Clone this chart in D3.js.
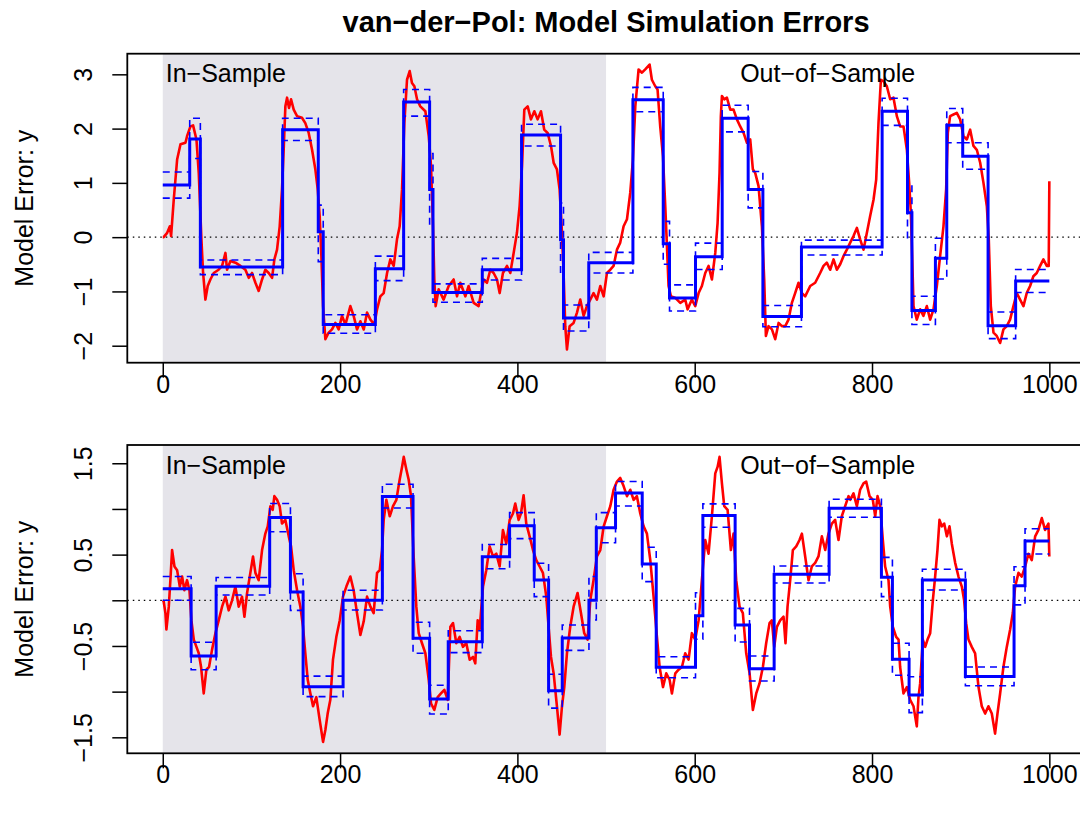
<!DOCTYPE html>
<html>
<head>
<meta charset="utf-8">
<script src="https://cdn.jsdelivr.net/npm/d3@7"></script>
<style>
  body { margin: 0; background: #fff; }
  text { font-family: "Liberation Sans", Arial, Helvetica, sans-serif; }
</style>
</head>
<body>
<div id="chart"></div>
<script>
// ---- data ----
// x tick labels shared by both panels
const xTicks = [0, 200, 400, 600, 800, 1000];
const sampleSplit = 500; // in-sample / out-of-sample boundary

// panel 1: simulated model error (time, value)
const simError1 = [[0,0.0],[1,0.0],[5,0.08],[8,0.2],[9.4,0.02],[12.4,0.69],[16.2,1.43],[20,1.71],[25.6,1.74],[27.4,1.86],[31.2,2.04],[34.2,2.06],[38,1.8],[40.6,1.18],[43.6,-0.04],[45.5,-0.66],[48.1,-1.15],[50.7,-0.9],[53.7,-0.78],[57.5,-0.66],[63,-0.6],[66.9,-0.53],[70.7,-0.29],[72.5,-0.6],[76.3,-0.44],[82,-0.47],[87.6,-0.53],[93.2,-0.6],[97,-0.75],[100.7,-0.66],[104.5,-0.84],[108.2,-0.99],[112,-0.78],[115.7,-0.6],[119.5,-0.66],[123.3,-0.75],[125.9,-0.41],[128.9,-0.23],[131.9,0.2],[134.5,0.88],[136.4,1.61],[138.3,2.41],[140.2,2.57],[142.4,2.38],[144.7,2.54],[147.7,2.35],[151.5,2.23],[157,2.2],[160.8,2.1],[164.6,1.92],[168.4,1.61],[172.1,1.25],[174.8,0.88],[177,0.39],[178.9,-0.35],[180.8,-1.27],[183.4,-1.88],[187.1,-1.76],[190.9,-1.7],[194.7,-1.58],[198.4,-1.7],[202.2,-1.45],[206,-1.61],[211.6,-1.27],[215.3,-1.45],[219.1,-1.7],[222.9,-1.55],[226.7,-1.7],[230.4,-1.39],[234.2,-1.52],[238.7,-1.61],[241.7,-1.33],[245.4,-1.09],[249.2,-1.03],[253,-0.66],[256.7,-0.41],[260.5,-0.53],[264.2,-0.04],[267.2,0.2],[269.9,0.88],[272.5,2.1],[275.5,2.9],[278.5,3.06],[281.1,2.84],[283.8,2.78],[286.8,2.54],[290.5,2.41],[296.2,2.32],[300,1.86],[302.6,1.31],[304.8,0.2],[306.3,-0.78],[307.8,-1.27],[311.2,-0.96],[316.8,-1.15],[322.5,-0.9],[328.1,-0.78],[331.9,-1.09],[335.6,-0.84],[341.3,-1.09],[345,-0.9],[350.7,-1.21],[356.3,-1.27],[359,-1.03],[362,-0.78],[365.7,-0.84],[369.5,-0.6],[373.2,-0.66],[377,-0.78],[380,-1.03],[383.7,-0.66],[388.3,-0.53],[392,-0.66],[395.8,-0.29],[399.5,0.08],[402.5,0.57],[405.2,1.31],[407.8,2.35],[411.6,2.41],[415.3,2.17],[419.1,2.32],[422.8,2.17],[426.6,2.32],[430.3,1.98],[434.1,1.92],[437.9,1.68],[440.9,1.37],[444.6,1.25],[447.6,0.88],[449.9,0.2],[452.1,-0.66],[454,-1.64],[455.9,-2.07],[458.9,-1.64],[463.4,-1.58],[467.2,-1.39],[470.9,-1.15],[474.7,-1.45],[478.4,-1.27],[482.2,-1.15],[485.9,-1.03],[489.7,-1.15],[493.5,-0.9],[497.3,-1.09],[501,-0.66],[504.8,-0.6],[508.5,-0.53],[512.3,-0.23],[516,-0.1],[519.8,0.2],[523.6,0.33],[527.3,0.82],[530.3,1.43],[533,2.41],[536.7,3.09],[540.5,3.03],[544.2,3.09],[549.1,3.18],[551.7,2.9],[555.5,2.78],[558.1,2.72],[561.1,2.04],[564.2,1.49],[566.8,0.57],[568.7,-0.17],[570.5,-0.9],[573.2,-1.09],[578.1,-1.12],[583.7,-1.21],[589.3,-1.15],[592,-1.33],[596.8,-1.15],[600.6,-1.27],[604.4,-1.03],[608.1,-0.9],[611.9,-0.66],[615.6,-0.53],[619.4,-0.78],[623.2,-0.29],[625.8,0.26],[628,1.18],[629.5,2.23],[630.7,2.6],[633.3,2.54],[636.3,2.57],[640.1,2.35],[643.8,2.35],[647.6,2.17],[651.3,2.04],[655.1,1.92],[658.9,1.74],[662.6,1.8],[665.6,1.25],[668.3,1.18],[672,0.94],[675.8,0.2],[678.4,-0.78],[680.3,-1.82],[683.3,-1.64],[687.1,-1.7],[690.8,-1.88],[694.6,-1.58],[698.3,-1.64],[702.1,-1.64],[705.8,-1.52],[709.6,-1.21],[713.3,-1.03],[717.1,-0.84],[720.9,-1.03],[724.6,-1.09],[730.3,-0.9],[735.9,-0.84],[741.5,-0.66],[745.3,-0.53],[749,-0.47],[752.8,-0.6],[756.6,-0.41],[760.3,-0.6],[764.1,-0.5],[767.8,-0.35],[771.6,-0.23],[775.4,-0.1],[779.1,0.02],[782.9,0.17],[786.6,-0.04],[790.4,-0.23],[794.2,0.08],[797.9,0.39],[801.7,0.69],[804.7,1.06],[807.3,2.1],[810,2.9],[813,2.87],[816.7,2.78],[820.5,2.54],[824.2,2.57],[828,2.23],[831.7,2.04],[835.5,2.04],[839.3,1.61],[841.9,1.0],[843.8,0.45],[845.3,-0.35],[846.8,-1.27],[850.5,-1.52],[854.3,-1.33],[858,-1.45],[861.8,-1.27],[865.6,-1.52],[869.3,-1.33],[873.1,-0.9],[876.8,-0.35],[880.6,0.2],[883.6,0.88],[885.5,1.92],[888.1,2.23],[891.9,2.26],[895.6,2.29],[899.4,2.17],[903.2,1.86],[906.9,1.8],[910.7,1.98],[914.4,1.68],[918.2,1.61],[922,1.37],[925.7,1.0],[929.5,0.57],[931.7,-0.04],[934,-1.27],[937,-1.76],[940.7,-1.82],[944.5,-1.95],[948.2,-1.7],[952,-1.64],[955.7,-1.52],[959.5,-1.27],[963.3,-1.03],[967,-1.15],[970.8,-1.27],[974.5,-1.03],[978.3,-0.9],[982,-0.72],[985.8,-0.66],[989.6,-0.53],[993.3,-0.41],[997.1,-0.53],[999.3,-0.53],[1000,1.03]];

// panel 1: piecewise-constant model (segment breaks, mean, upper, lower band)
const stepBreaks1 = [0,30.4,42.4,135.2,175.4,181,239.8,271.7,301,304.8,360.4,404.7,448.7,452,480.5,530.3,564.5,571.6,600.9,631,660.3,676.9,720.4,811.4,840,845,871.5,884.3,902.3,930.9,962,1000];
const stepMean1  = [0.96,1.81,-0.55,1.98,0.10,-1.61,-0.58,2.49,0.88,-1.02,-0.60,1.88,-0.05,-1.49,-0.47,2.53,-0.12,-1.12,-0.36,2.19,0.88,-1.46,-0.18,2.32,0.45,-1.35,-0.39,2.06,1.49,-1.63,-0.81];
const stepUpper1 = [1.20,2.19,-0.42,2.19,0.59,-1.43,-0.35,2.72,1.54,-0.86,-0.39,2.08,0.63,-1.25,-0.28,2.76,0.29,-0.88,-0.11,2.43,1.21,-1.26,-0.055,2.56,0.97,-1.09,-0.02,2.37,1.74,-1.38,-0.595];
const stepLower1 = [0.72,1.45,-0.69,1.78,-0.45,-1.77,-0.80,2.23,0.22,-1.20,-0.79,1.68,-0.70,-1.73,-0.66,2.31,-0.50,-1.36,-0.595,1.94,0.54,-1.65,-0.33,2.06,-0.04,-1.61,-0.77,1.74,1.25,-1.87,-1.02];
const yTicks1 = [-2, -1, 0, 1, 2, 3];
const yLabels1 = ['\u22122', '\u22121', '0', '1', '2', '3'];

// panel 2
const simError2 = [[0,0.0],[1,-0.01],[3,-0.14],[4.1,-0.32],[6.8,-0.07],[8.6,0.22],[10.5,0.55],[13.2,0.37],[16.2,0.33],[19.2,0.15],[21.8,0.26],[24.4,0.11],[27.4,0.22],[30.1,0.11],[32.3,-0.22],[35,-0.43],[38,-0.51],[40.6,-0.58],[43.2,-0.73],[46.2,-1.02],[49.2,-0.76],[52.2,-0.73],[55.6,-0.54],[59.4,-0.36],[63.1,-0.22],[66.9,-0.07],[70.7,0.04],[74.4,-0.11],[78.2,0.0],[81.9,0.15],[85.7,-0.07],[89.4,0.04],[92.1,-0.18],[95.1,0.08],[98.8,0.3],[101.8,0.48],[104.5,0.3],[108.2,0.22],[112,0.55],[115.7,0.73],[118.4,0.81],[121.4,1.03],[124,0.99],[125.9,1.14],[128.9,1.10],[131.9,1.03],[134.5,0.84],[138.3,0.88],[142.1,0.70],[144.7,0.59],[147.7,0.33],[151.5,0.11],[155.2,-0.07],[158.2,-0.29],[160.8,-0.58],[163.5,-0.87],[166.5,-1.02],[169.5,-1.16],[173.2,-1.06],[177,-1.31],[180.8,-1.55],[183.4,-1.42],[186,-1.24],[189,-1.09],[192,-0.65],[195.8,-0.40],[199.6,-0.22],[203.3,0.04],[207.1,0.15],[211.6,0.26],[215.3,0.11],[219.1,-0.14],[222.9,-0.38],[226.7,-0.23],[230.4,0.04],[234.2,-0.07],[237.9,-0.14],[241.7,0.30],[244.7,0.33],[247.3,0.55],[249.2,0.88],[252.2,1.10],[256,0.92],[259.7,1.03],[263.5,1.10],[267.2,1.32],[269.9,1.46],[271.8,1.57],[274.8,1.43],[277.4,1.32],[280,1.14],[283,0.48],[286,-0.07],[288.7,-0.36],[292.4,-0.47],[296.2,-0.58],[300,-0.87],[302.6,-1.13],[306.3,-1.20],[310.1,-1.06],[313.8,-1.02],[317.6,-0.98],[321.4,-1.09],[324.4,-0.29],[327.4,-0.25],[331.1,-0.47],[334.9,-0.40],[338.6,-0.51],[342.4,-0.47],[346.2,-0.65],[349.9,-0.62],[352.5,-0.69],[355.2,-0.22],[357.4,-0.32],[361.2,0.15],[364.9,0.33],[368.7,0.59],[372.5,0.48],[376.2,0.51],[380,0.37],[383.7,0.77],[387.5,0.62],[391.3,0.88],[395,0.95],[397.6,1.06],[401.4,0.88],[404,0.95],[407,1.15],[410,0.84],[413.8,0.70],[417.6,0.55],[421.3,0.44],[425.1,0.37],[428.8,0.30],[432.6,0.04],[435.2,-0.29],[437.9,-0.62],[440.9,-0.80],[444.6,-1.16],[447.6,-1.47],[450.3,-1.16],[452.9,-0.95],[455.9,-0.58],[459.6,-0.29],[463.4,-0.07],[467.9,0.08],[471.7,-0.14],[475.4,-0.36],[479.2,-0.43],[482.2,0.0],[485.9,0.22],[489.7,0.48],[493.5,0.55],[497.3,0.81],[501,0.92],[504.8,1.03],[508.5,1.21],[512.3,1.30],[516,1.34],[519.8,1.25],[523.6,1.14],[527.3,1.21],[531.1,1.10],[534.8,1.14],[538.6,0.95],[542.4,0.81],[546.1,0.73],[549.9,0.44],[553.6,0.04],[557.4,-0.40],[560.4,-0.73],[564.2,-0.95],[567.9,-0.80],[571.7,-0.87],[574.3,-1.02],[578.1,-0.80],[581.8,-0.76],[585.6,-0.73],[589.3,-0.58],[593.1,-0.65],[596.8,-0.36],[600.6,-0.43],[604.4,-0.22],[608.1,0.22],[611.9,0.66],[615.6,0.51],[619.4,0.92],[623.2,1.39],[625.8,1.46],[628,1.57],[630.7,1.28],[633.3,1.03],[637.1,0.99],[640.8,0.55],[643.8,0.73],[646.8,0.22],[650.6,-0.07],[654.3,-0.14],[658.1,-0.58],[661.9,-0.80],[665.6,-1.20],[669.4,-1.02],[673.1,-0.91],[676.9,-0.73],[680.6,-0.47],[684.4,-0.25],[687,-0.22],[689.7,-0.51],[692.7,-0.29],[696.4,-0.22],[700.2,-0.18],[702.4,-0.47],[704.7,-0.07],[707.7,0.22],[710.7,0.55],[714.5,0.59],[718.2,0.66],[720.9,0.73],[724.6,0.48],[728.4,0.22],[732.1,0.37],[735.9,0.41],[739.6,0.48],[743.4,0.70],[747.2,0.55],[750.9,0.73],[754.7,0.84],[758.4,0.88],[762.2,0.66],[765.9,0.92],[769.7,1.03],[773.5,1.14],[775.4,1.10],[779.1,1.17],[782.9,1.03],[786.6,1.21],[790.4,1.28],[793.4,1.30],[797.2,1.14],[800.9,1.10],[803.6,0.92],[806.2,1.14],[809.2,1.03],[812.2,0.66],[814.8,0.37],[818.6,0.22],[820.5,-0.07],[823.5,-0.29],[827.2,-0.40],[829.9,-0.43],[831.7,-0.73],[835.5,-1.02],[839.3,-0.95],[843,-1.09],[846.8,-1.16],[850.5,-1.38],[852.4,-1.06],[854.3,-0.91],[857.3,-0.43],[860,-0.51],[862.6,-0.43],[865.6,-0.36],[868.6,0.0],[871.2,0.26],[873.8,0.55],[876.1,0.88],[878.7,0.81],[881.4,0.84],[884.4,0.70],[887.4,0.81],[890,0.62],[893.8,0.41],[897.5,0.26],[901.3,0.15],[903.9,0.0],[906.2,-0.25],[908.8,-0.43],[912.5,-0.51],[916.3,-0.58],[920.1,-0.95],[923.8,-1.16],[927.6,-1.24],[931.3,-1.16],[935.1,-1.24],[938.8,-1.46],[941.5,-1.24],[944.5,-1.02],[948.2,-0.73],[952,-0.51],[955.8,-0.32],[958.8,-0.14],[961.4,0.15],[965.2,0.30],[968.9,0.26],[972.7,0.37],[976.4,0.51],[980.2,0.44],[984,0.70],[987.7,0.77],[991.5,0.90],[995.2,0.77],[999,0.84],[1000,0.48]];

const stepBreaks2 = [0,32,60.2,120.6,144,158.3,203.4,247.7,282.3,301,322,360.4,391.2,419,435.2,450.6,480.7,489,510.7,540.8,556.6,600.9,609.2,645.6,661.8,689.6,751.6,810.6,823,841.8,856.8,905.3,960.2,972.6,1000];
const stepMean2  = [0.127,-0.61,0.153,0.905,0.09,-0.946,0.0,1.135,-0.416,-1.08,-0.453,0.478,0.817,0.222,-0.99,-0.413,0.0,0.795,1.175,0.398,-0.734,-0.168,0.927,-0.27,-0.749,0.285,1.007,0.252,-0.646,-1.037,0.222,-0.833,0.16,0.65];
const stepUpper2 = [0.26,-0.46,0.25,1.06,0.29,-0.83,0.11,1.27,-0.24,-0.93,-0.333,0.61,0.96,0.405,-0.81,-0.27,0.26,0.96,1.30,0.58,-0.618,0.083,1.055,-0.088,-0.61,0.376,1.106,0.47,-0.47,-0.837,0.34,-0.73,0.368,0.784];
const stepLower2 = [0.0,-0.76,0.058,0.75,-0.11,-1.055,-0.106,1.01,-0.58,-1.245,-0.573,0.346,0.675,0.04,-1.18,-0.548,-0.216,0.63,1.033,0.204,-0.848,-0.427,0.80,-0.457,-0.884,0.19,0.909,0.04,-0.82,-1.23,0.113,-0.935,-0.05,0.507];
const yTicks2 = [-1.5, -1, -0.5, 0, 0.5, 1, 1.5];
const yLabels2 = ['\u22121.5', '', '\u22120.5', '', '0.5', '', '1.5']; // R drops the overlapping ones

// ---- layout ----
const width = 1080, height = 813;
const svg = d3.select('#chart').append('svg')
    .attr('width', width)
    .attr('height', height);

// shared x scale (R pads the range by 4%)
const x = d3.scaleLinear().domain([-40, 1040]).range([127.3, 1084.8]);

svg.append('text')
    .attr('x', (x.range()[0] + x.range()[1]) / 2)
    .attr('y', 32)
    .attr('text-anchor', 'middle')
    .attr('font-size', 29)
    .attr('font-weight', 'bold')
    .text('van\u2212der\u2212Pol: Model Simulation Errors');

// turn breaks + values into points for a step-after line
function stepPoints(breaks, values){
    let pts = values.map((v, i) => [breaks[i], v]);
    pts.push([breaks[breaks.length - 1], values[values.length - 1]]);
    return pts;
}

function drawPanel(p){
    const y = d3.scaleLinear().domain(p.yDomain).range([p.bottom, p.top]);
    const g = svg.append('g');
    const clipId = 'clip' + p.id;

    g.append('clipPath').attr('id', clipId)
        .append('rect')
        .attr('x', x.range()[0]).attr('y', p.top)
        .attr('width', x.range()[1] - x.range()[0])
        .attr('height', p.bottom - p.top);

    const plot = g.append('g').attr('clip-path', `url(#${clipId})`);

    // in-sample shading
    plot.append('rect')
        .attr('x', x(0)).attr('y', p.top)
        .attr('width', x(sampleSplit) - x(0))
        .attr('height', p.bottom - p.top)
        .attr('fill', '#e5e4ea');

    // zero line
    plot.append('line')
        .attr('x1', x.range()[0]).attr('x2', x.range()[1])
        .attr('y1', y(0)).attr('y2', y(0))
        .attr('stroke', '#000')
        .attr('stroke-width', 1.3)
        .attr('stroke-dasharray', '1.5,4');

    const line = d3.line().x(d => x(d[0])).y(d => y(d[1]));
    const step = d3.line().x(d => x(d[0])).y(d => y(d[1])).curve(d3.curveStepAfter);

    plot.append('path')
        .datum(p.error)
        .attr('d', line)
        .attr('fill', 'none')
        .attr('stroke', '#ff0000')
        .attr('stroke-width', 2.6)
        .attr('stroke-linejoin', 'round');

    [p.upper, p.lower].forEach(band => {
        plot.append('path')
            .datum(stepPoints(p.breaks, band))
            .attr('d', step)
            .attr('fill', 'none')
            .attr('stroke', '#0000ff')
            .attr('stroke-width', 1.6)
            .attr('stroke-dasharray', '7,5');
    });

    plot.append('path')
        .datum(stepPoints(p.breaks, p.mean))
        .attr('d', step)
        .attr('fill', 'none')
        .attr('stroke', '#0000ff')
        .attr('stroke-width', 3);

    // sample labels
    plot.append('text')
        .attr('x', x(0) + 3).attr('y', p.top + 28.5)
        .attr('font-size', 25)
        .text('In\u2212Sample');
    plot.append('text')
        .attr('x', x(750)).attr('y', p.top + 28.5)
        .attr('text-anchor', 'middle')
        .attr('font-size', 25)
        .text('Out\u2212of\u2212Sample');

    // frame
    g.append('rect')
        .attr('x', x.range()[0]).attr('y', p.top)
        .attr('width', x.range()[1] - x.range()[0])
        .attr('height', p.bottom - p.top)
        .attr('fill', 'none')
        .attr('stroke', '#000')
        .attr('stroke-width', 1.8);

    // axes
    const yAxis = g.append('g')
        .attr('transform', `translate(${x.range()[0]},0)`)
        .call(d3.axisLeft(y).tickValues(p.yTicks).tickSize(15).tickSizeOuter(0)
            .tickFormat((d, i) => p.yLabels[i]));
    yAxis.select('.domain').remove();
    yAxis.selectAll('line').attr('stroke-width', 1.5);
    yAxis.selectAll('text')
        .attr('transform', 'rotate(-90)')
        .attr('x', 0).attr('y', -35.6).attr('dy', 0)
        .attr('text-anchor', 'middle')
        .attr('font-size', 25)
        .attr('font-family', '"Liberation Sans", Arial, sans-serif')
        .attr('fill', '#000');

    const xAxis = g.append('g')
        .attr('transform', `translate(0,${p.bottom})`)
        .call(d3.axisBottom(x).tickValues(xTicks).tickSize(15).tickSizeOuter(0)
            .tickFormat(d3.format('d')));
    xAxis.select('.domain').remove();
    xAxis.selectAll('line').attr('stroke-width', 1.5);
    xAxis.selectAll('text')
        .attr('y', 30).attr('dy', 0)
        .attr('font-size', 25)
        .attr('font-family', '"Liberation Sans", Arial, sans-serif')
        .attr('fill', '#000');

    g.append('text')
        .attr('transform', `translate(33.3,${(p.top + p.bottom) / 2}) rotate(-90)`)
        .attr('text-anchor', 'middle')
        .attr('font-size', 25)
        .text('Model Error: y');
}

drawPanel({
    id: 1, top: 53.7, bottom: 362.7, yDomain: [-2.313, 3.38],
    yTicks: yTicks1, yLabels: yLabels1,
    error: simError1, breaks: stepBreaks1,
    mean: stepMean1, upper: stepUpper1, lower: stepLower1
});

drawPanel({
    id: 2, top: 445, bottom: 753.3, yDomain: [-1.675, 1.70],
    yTicks: yTicks2, yLabels: yLabels2,
    error: simError2, breaks: stepBreaks2,
    mean: stepMean2, upper: stepUpper2, lower: stepLower2
});
</script>
</body>
</html>
